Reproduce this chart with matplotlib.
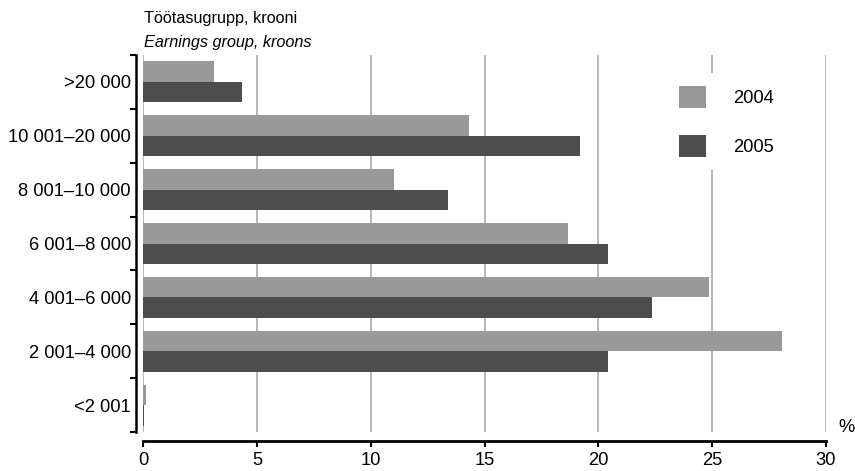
import matplotlib
matplotlib.use('Agg')
import matplotlib.pyplot as plt
import numpy as np

plt.rcParams['font.family'] = ['Liberation Sans', 'DejaVu Sans']

# earnings groups, bottom to top
groups = ['<2 001', '2 001–4 000', '4 001–6 000', '6 001–8 000',
          '8 001–10 000', '10 001–20 000', '>20 000']
share_2004 = [0.12, 28.1, 24.85, 18.65, 11.0, 14.3, 3.1]
share_2005 = [0.04, 20.45, 22.35, 20.45, 13.4, 19.2, 4.35]
years = ['2004', '2005']
xticks = [0, 5, 10, 15, 20, 25, 30]

c_light = '#999999'
c_dark = '#4d4d4d'
fs = 13.2

fig = plt.figure(figsize=(8.55, 4.71), dpi=100)
ax = fig.add_axes([143.3 / 855, 1 - 432 / 471, (825.7 - 143.3) / 855, (432 - 55) / 471])

y = np.arange(len(groups))
h = 0.38
ax.barh(y + h / 2, share_2004, height=h, color=c_light, label=years[0], zorder=3)
ax.barh(y - h / 2, share_2005, height=h, color=c_dark, label=years[1], zorder=3)

ax.set_xlim(0, 30)
ax.set_ylim(-0.5, len(groups) - 0.5)

# vertical grid
for v in xticks:
    ax.axvline(v, color='#a3a3a3', lw=1.1, zorder=1)

ax.spines['top'].set_visible(False)
ax.spines['right'].set_visible(False)
ax.spines['left'].set_position(('outward', 5.5))
ax.spines['left'].set_linewidth(1.8)
ax.spines['bottom'].set_position(('outward', 6.5))
ax.spines['bottom'].set_linewidth(2)

ax.set_xticks(xticks)
ax.set_xticklabels([str(v) for v in xticks], fontsize=fs)
ax.tick_params(axis='x', direction='out', length=4, width=1.5, pad=4)

ax.set_yticks(np.arange(-0.5, len(groups), 1.0))
ax.set_yticklabels([])
ax.set_yticks(y, minor=True)
ax.set_yticklabels(groups, minor=True, fontsize=fs)
ax.tick_params(axis='y', which='major', direction='out', length=4, width=1.5)
ax.tick_params(axis='y', which='minor', length=0, pad=3.5)

fig.text(144 / 855, 1 - 18 / 471, 'Töötasugrupp, krooni', fontsize=11.7,
         va='center', ha='left')
fig.text(144 / 855, 1 - 42 / 471, 'Earnings group, kroons', fontsize=11.7,
         style='italic', va='center', ha='left')
fig.text(846 / 855, 1 - 427 / 471, '%', fontsize=fs, ha='center', va='center')

leg = ax.legend(loc='upper left', bbox_to_anchor=(666 / 855, 1 - 73 / 471),
                bbox_transform=fig.transFigure, fontsize=fs, frameon=True,
                fancybox=False, edgecolor='none', facecolor='white', framealpha=1,
                handlelength=1.5, handleheight=1.5, labelspacing=1.45,
                handletextpad=1.45, borderpad=0.7, borderaxespad=0)
leg.set_zorder(5)

fig.savefig('out.png', dpi=100)
